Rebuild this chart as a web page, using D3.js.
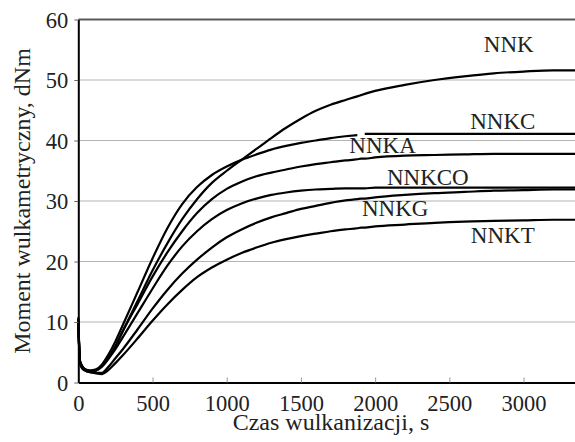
<!DOCTYPE html>
<html>
<head>
<meta charset="utf-8">
<script src="https://cdn.jsdelivr.net/npm/d3@7/dist/d3.min.js"></script>
<style>
  html, body { margin: 0; padding: 0; background: #fff; }
  svg { display: block; }
</style>
</head>
<body>
<svg id="chart" width="575" height="442"></svg>
<script>
// ---- data ----
const times   = [0, 12, 40, 80, 120, 160, 200, 250, 300, 400, 500, 600, 700, 800, 900, 1000, 1100, 1200, 1300, 1400, 1500, 1600, 1700, 1800, 1880, 1905, 1930, 2000, 2200, 2400, 2600, 2800, 3000, 3200, 3350];
const NNK     = [10.8, 3.0, 2.0, 1.7, 2.0, 2.8, 4.0, 6.0, 8.5, 13.5, 18.5, 23.0, 27.0, 30.3, 33.0, 35.0, 36.8, 38.6, 40.4, 42.1, 43.6, 44.9, 45.9, 46.7, 47.3, 47.5, 47.7, 48.2, 49.2, 50.0, 50.6, 51.1, 51.4, 51.6, 51.6];
const NNKC    = [10.5, 3.5, 2.3, 2.0, 2.2, 3.0, 4.5, 6.8, 9.5, 15.0, 20.5, 25.5, 29.5, 32.3, 34.3, 35.7, 36.8, 37.7, 38.5, 39.1, 39.6, 40.0, 40.4, 40.7, 40.9, null, 41.1, 41.1, 41.1, 41.1, 41.1, 41.1, 41.1, 41.1, 41.1];
const NNKA    = [10.2, 3.2, 2.1, 1.9, 2.0, 2.8, 4.0, 6.0, 8.5, 13.0, 17.5, 21.5, 25.0, 28.0, 30.3, 32.0, 33.2, 34.1, 34.7, 35.2, 35.7, 36.1, 36.4, 36.7, 36.9, 37.0, 37.0, 37.2, 37.5, 37.6, 37.7, 37.8, 37.8, 37.8, 37.8];
const NNKCO   = [10.0, 3.2, 2.1, 1.9, 2.0, 2.6, 3.8, 5.5, 7.5, 11.5, 15.5, 19.3, 22.5, 25.0, 27.0, 28.5, 29.6, 30.4, 31.0, 31.4, 31.7, 31.9, 32.0, 32.1, 32.1, 32.1, 32.1, 32.2, 32.2, 32.2, 32.2, 32.2, 32.2, 32.2, 32.2];
const NNKG    = [9.8, 3.5, 2.3, 1.8, 1.6, 1.6, 2.5, 4.0, 5.5, 8.8, 12.2, 15.3, 18.0, 20.3, 22.3, 24.0, 25.3, 26.4, 27.3, 28.0, 28.7, 29.2, 29.7, 30.1, 30.3, 30.4, 30.4, 30.6, 31.0, 31.3, 31.5, 31.7, 31.8, 31.9, 31.9];
const NNKT    = [9.5, 3.4, 2.2, 1.7, 1.5, 1.4, 2.0, 3.2, 4.5, 7.3, 10.2, 12.9, 15.3, 17.4, 19.0, 20.3, 21.4, 22.3, 23.1, 23.7, 24.2, 24.6, 25.0, 25.3, 25.5, 25.6, 25.6, 25.8, 26.1, 26.4, 26.6, 26.7, 26.8, 26.9, 26.9];
const seriesNames = ["NNK", "NNKC", "NNKA", "NNKCO", "NNKG", "NNKT"];
const seriesValues = [NNK, NNKC, NNKA, NNKCO, NNKG, NNKT];
const xTicks = [0, 500, 1000, 1500, 2000, 2500, 3000];
const yTicks = [0, 10, 20, 30, 40, 50, 60];
const labelAnchors = [ // [time, value] where each series name is written
  [2900, 54.6], [2860, 41.9], [2050, 37.9], [2355, 32.6], [2135, 27.6], [2860, 23.1]
];
const xTitle = "Czas wulkanizacji, s";
const yTitle = "Moment wulkametryczny, dNm";

// ---- layout ----
const svg = d3.select("#chart");
const x = d3.scaleLinear().domain([0, 3350]).range([78.3, 575.5]);
const y = d3.scaleLinear().domain([0, 60]).range([382.5, 19.5]);
const font = "'Liberation Serif', 'Times New Roman', serif";

// grid lines
svg.append("g")
  .selectAll("line")
  .data(yTicks.filter(v => v > 0 && v < 60))
  .join("line")
  .attr("x1", x(0)).attr("x2", 575)
  .attr("y1", d => y(d)).attr("y2", d => y(d))
  .attr("stroke", "#b4b4b4").attr("stroke-width", 1);

// top frame line
svg.append("line")
  .attr("x1", x(0)).attr("x2", 575)
  .attr("y1", y(60)).attr("y2", y(60))
  .attr("stroke", "#5a5a5a").attr("stroke-width", 2);

// curves
const line = d3.line()
  .defined(d => d[1] !== null)
  .x(d => x(d[0]))
  .y(d => y(d[1]))
  .curve(d3.curveMonotoneX);

svg.append("g")
  .selectAll("path")
  .data(seriesValues)
  .join("path")
  .attr("d", vals => line(times.map((t, i) => [t, vals[i]])))
  .attr("fill", "none")
  .attr("stroke", "#000")
  .attr("stroke-width", 2.2)
  .attr("stroke-linejoin", "round");

// x axis
const xAxis = svg.append("g")
  .attr("transform", `translate(0,${y(0)})`)
  .call(d3.axisBottom(x).tickValues(xTicks).tickFormat(d3.format("d"))
        .tickSizeInner(-5).tickSizeOuter(0).tickPadding(12));
xAxis.select(".domain").attr("stroke", "#000").attr("stroke-width", 2);
xAxis.selectAll(".tick line").attr("stroke", "#999");
xAxis.selectAll(".tick text")
  .attr("font-family", font).attr("font-size", 22.5).attr("fill", "#222")
  .attr("y", 28.5).attr("dy", 0);

// y axis
const yAxis = svg.append("g")
  .attr("transform", `translate(${x(0)},0)`)
  .call(d3.axisLeft(y).tickValues(yTicks).tickFormat(d3.format("d"))
        .tickSizeInner(4).tickSizeOuter(0).tickPadding(6));
yAxis.select(".domain").attr("stroke", "#000").attr("stroke-width", 2);
yAxis.selectAll(".tick line").attr("stroke", "#666");
yAxis.selectAll(".tick text")
  .attr("font-family", font).attr("font-size", 22.5).attr("fill", "#222")
  .attr("dy", "0.34em");

// series labels
svg.append("g")
  .selectAll("text")
  .data(seriesNames)
  .join("text")
  .attr("x", (d, i) => x(labelAnchors[i][0]))
  .attr("y", (d, i) => y(labelAnchors[i][1]))
  .attr("text-anchor", "middle")
  .attr("font-family", font).attr("font-size", 23).attr("fill", "#222")
  .text(d => d);

// axis titles
svg.append("text")
  .attr("x", 331).attr("y", 429.5)
  .attr("text-anchor", "middle")
  .attr("font-family", font).attr("font-size", 24).attr("fill", "#222")
  .text(xTitle);

svg.append("text")
  .attr("transform", "translate(30,201) rotate(-90)")
  .attr("text-anchor", "middle")
  .attr("font-family", font).attr("font-size", 24).attr("fill", "#222")
  .text(yTitle);
</script>
</body>
</html>
